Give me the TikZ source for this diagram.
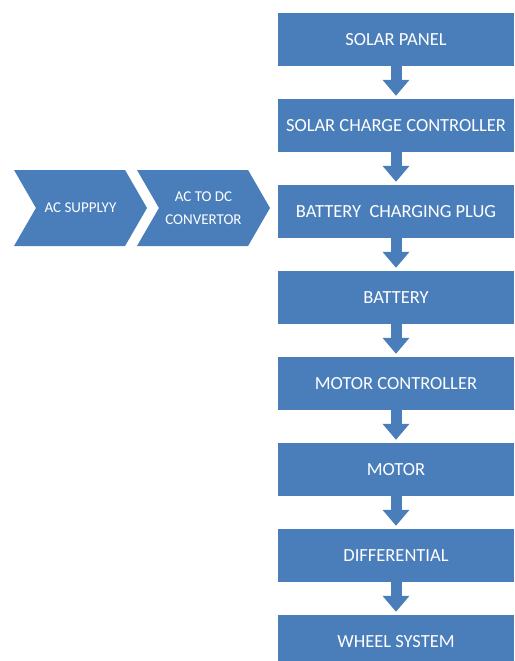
\documentclass[tikz,border=0pt]{standalone}
\usepackage{fontspec}
\setmainfont{Carlito}
\usetikzlibrary{positioning, arrows.meta, shapes.symbols}
\definecolor{blockblue}{RGB}{74,126,187}

\begin{document}
\begin{tikzpicture}[x=1pt, y=1pt, node distance=86pt, on grid]
                \tikzset{
                    stage/.style={rectangle, fill=blockblue, text=white, minimum width=236pt,
                        minimum height=53pt, inner sep=0pt, font=\fontsize{18.5}{21}\selectfont},
                    chevron/.style={signal, signal from=west, signal to=east, signal pointer angle=120,
                        fill=blockblue, text=white, minimum width=133pt, minimum height=76pt,
                        inner sep=0pt, align=center, font=\fontsize{15}{23}\selectfont},
                    flow/.style={draw=blockblue, line width=11pt, shorten >=3pt,
                        -{Triangle[width=26pt, length=16pt]}}
                }
                \useasboundingbox (0,0) rectangle (514,-661);

                \node[stage] (panel) at (396,-39.5) {SOLAR PANEL};
                \node[stage] (scc) [below=of panel] {SOLAR CHARGE CONTROLLER};
                \node[stage] (plug) [below=of scc] {BATTERY\ \ CHARGING PLUG};
                \node[stage] (batt) [below=of plug] {BATTERY};
                \node[stage] (mctrl) [below=of batt] {MOTOR CONTROLLER};
                \node[stage] (motor) [below=of mctrl] {MOTOR};
                \node[stage] (diff) [below=of motor] {DIFFERENTIAL};
                \node[stage] (wheel) [below=of diff] {WHEEL SYSTEM};

                \node[chevron] (acsup) at (80.5,-208) {AC SUPPLYY};
                \node[chevron] (acdc) at (203.5,-208) {AC TO DC\\CONVERTOR};

                \draw[flow] (panel) -- (scc);
                \draw[flow] (scc) -- (plug);
                \draw[flow] (plug) -- (batt);
                \draw[flow] (batt) -- (mctrl);
                \draw[flow] (mctrl) -- (motor);
                \draw[flow] (motor) -- (diff);
                \draw[flow] (diff) -- (wheel);

            \end{tikzpicture}
\end{document}
